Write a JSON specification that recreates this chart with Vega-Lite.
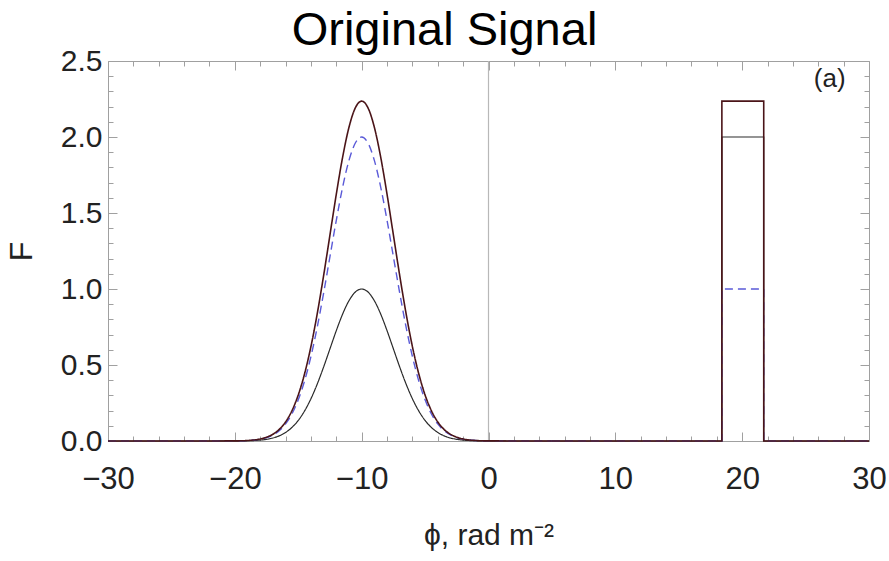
{
  "$schema": "https://vega.github.io/schema/vega-lite/v6.json",
  "width": 761,
  "height": 380,
  "autosize": "none",
  "padding": {"left": 108, "top": 61, "right": 20, "bottom": 120},
  "background": "white",
  "title": {
    "text": "Original Signal",
    "font": "Liberation Sans",
    "fontSize": 47,
    "fontWeight": "normal",
    "color": "#000000",
    "anchor": "middle",
    "dx": -44,
    "dy": 21,
    "offset": 12
  },
  "config": {
    "view": {"stroke": "#a0a0a0", "strokeWidth": 1},
    "axis": {
      "domain": false,
      "grid": false,
      "tickColor": "#a0a0a0",
      "labelFont": "Liberation Sans",
      "labelColor": "#222222",
      "titleFont": "Liberation Sans",
      "titleFontWeight": "normal",
      "titleColor": "#222222",
      "labelOverlap": false,
      "labelFlush": false
    }
  },
  "datasets": {
    "gauss": [
      {"x": -30, "re": 0, "im": 0, "amp": 0},
      {"x": -25, "re": 0, "im": 0, "amp": 0},
      {"x": -20, "re": 0.0003, "im": 0.0007, "amp": 0.0007},
      {"x": -19, "re": 0.0015, "im": 0.0031, "amp": 0.0034},
      {"x": -18.5, "re": 0.0031, "im": 0.0062, "amp": 0.0069},
      {"x": -18, "re": 0.006, "im": 0.012, "amp": 0.0134},
      {"x": -17.5, "re": 0.0111, "im": 0.0222, "amp": 0.0248},
      {"x": -17, "re": 0.0198, "im": 0.0396, "amp": 0.0443},
      {"x": -16.5, "re": 0.034, "im": 0.068, "amp": 0.076},
      {"x": -16, "re": 0.0561, "im": 0.1122, "amp": 0.1254},
      {"x": -15.5, "re": 0.0889, "im": 0.1778, "amp": 0.1988},
      {"x": -15, "re": 0.1353, "im": 0.2707, "amp": 0.3026},
      {"x": -14.5, "re": 0.1979, "im": 0.3958, "amp": 0.4425},
      {"x": -14, "re": 0.278, "im": 0.556, "amp": 0.6216},
      {"x": -13.5, "re": 0.3753, "im": 0.7506, "amp": 0.8392},
      {"x": -13, "re": 0.4868, "im": 0.9736, "amp": 1.0885},
      {"x": -12.5, "re": 0.6065, "im": 1.2131, "amp": 1.3562},
      {"x": -12, "re": 0.7261, "im": 1.4522, "amp": 1.6236},
      {"x": -11.5, "re": 0.8353, "im": 1.6706, "amp": 1.8678},
      {"x": -11, "re": 0.9231, "im": 1.8462, "amp": 2.0641},
      {"x": -10.5, "re": 0.9802, "im": 1.9604, "amp": 2.1918},
      {"x": -10, "re": 1, "im": 2, "amp": 2.2361},
      {"x": -9.5, "re": 0.9802, "im": 1.9604, "amp": 2.1918},
      {"x": -9, "re": 0.9231, "im": 1.8462, "amp": 2.0641},
      {"x": -8.5, "re": 0.8353, "im": 1.6706, "amp": 1.8678},
      {"x": -8, "re": 0.7261, "im": 1.4522, "amp": 1.6236},
      {"x": -7.5, "re": 0.6065, "im": 1.2131, "amp": 1.3562},
      {"x": -7, "re": 0.4868, "im": 0.9736, "amp": 1.0885},
      {"x": -6.5, "re": 0.3753, "im": 0.7506, "amp": 0.8392},
      {"x": -6, "re": 0.278, "im": 0.556, "amp": 0.6216},
      {"x": -5.5, "re": 0.1979, "im": 0.3958, "amp": 0.4425},
      {"x": -5, "re": 0.1353, "im": 0.2707, "amp": 0.3026},
      {"x": -4.5, "re": 0.0889, "im": 0.1778, "amp": 0.1988},
      {"x": -4, "re": 0.0561, "im": 0.1122, "amp": 0.1254},
      {"x": -3.5, "re": 0.034, "im": 0.068, "amp": 0.076},
      {"x": -3, "re": 0.0198, "im": 0.0396, "amp": 0.0443},
      {"x": -2.5, "re": 0.0111, "im": 0.0222, "amp": 0.0248},
      {"x": -2, "re": 0.006, "im": 0.012, "amp": 0.0134},
      {"x": -1.5, "re": 0.0031, "im": 0.0062, "amp": 0.0069},
      {"x": -1, "re": 0.0015, "im": 0.0031, "amp": 0.0034},
      {"x": 0, "re": 0.0003, "im": 0.0007, "amp": 0.0007},
      {"x": 5, "re": 0, "im": 0, "amp": 0}
    ],
    "box": [
      {"o": 0, "x": 5, "re": 0, "im": 0, "amp": 0},
      {"o": 1, "x": 18.4, "re": 0, "im": 0, "amp": 0},
      {"o": 2, "x": 18.4, "re": 2, "im": 1, "amp": 2.2361},
      {"o": 3, "x": 21.7, "re": 2, "im": 1, "amp": 2.2361},
      {"o": 4, "x": 21.7, "re": 0, "im": 0, "amp": 0},
      {"o": 5, "x": 30, "re": 0, "im": 0, "amp": 0}
    ],
    "zero": [{"x": 0, "y": 0, "y2": 2.5}],
    "note": [{"x": 26.9, "y": 2.38, "label": "(a)"}]
  },
  "layer": [
    {
      "encoding": {
        "x": {
          "field": "x",
          "type": "quantitative",
          "scale": {"domain": [-30, 30], "nice": false, "zero": false},
          "axis": {
            "orient": "bottom",
            "values": [-30, -28, -26, -24, -22, -20, -18, -16, -14, -12, -10, -8, -6, -4, -2, 0, 2, 4, 6, 8, 10, 12, 14, 16, 18, 20, 22, 24, 26, 28, 30],
            "labelExpr": "datum.value % 10 === 0 ? datum.label : ''",
            "tickSize": {"condition": {"test": "datum.value % 10 === 0", "value": -9}, "value": -5},
            "labelPadding": 32,
            "labelFontSize": 31,
            "title": "ϕ, rad m⁻²",
            "titleFontSize": 30,
            "titlePadding": 22
          }
        },
        "y": {
          "field": "y",
          "type": "quantitative",
          "scale": {"domain": [0, 2.5], "nice": false},
          "axis": {
            "orient": "left",
            "values": [0, 0.1, 0.2, 0.3, 0.4, 0.5, 0.6, 0.7, 0.8, 0.9, 1, 1.1, 1.2, 1.3, 1.4, 1.5, 1.6, 1.7, 1.8, 1.9, 2, 2.1, 2.2, 2.3, 2.4, 2.5],
            "labelExpr": "round(datum.value * 10) % 5 === 0 ? format(datum.value, '.1f') : ''",
            "tickSize": {"condition": {"test": "round(datum.value * 10) % 5 === 0", "value": -9}, "value": -5},
            "labelPadding": 15,
            "labelFontSize": 30,
            "title": "F",
            "titleFontSize": 32,
            "titlePadding": 22
          }
        }
      },
      "layer": [
        {
          "data": {"name": "zero"},
          "mark": {"type": "rule", "color": "#b8b8b8", "strokeWidth": 1.2},
          "encoding": {"y2": {"field": "y2"}}
        },
        {
          "data": {"name": "gauss"},
          "transform": [{"fold": ["re", "im", "amp"], "as": ["series", "y"]}],
          "mark": {"type": "line", "interpolate": "monotone"},
          "encoding": {
            "color": {"field": "series", "type": "nominal", "scale": {"domain": ["re", "im", "amp"], "range": ["#2a2a2a", "#5a5ad8", "#4a1418"]}, "legend": null},
            "strokeWidth": {"field": "series", "type": "nominal", "scale": {"domain": ["re", "im", "amp"], "range": [1.2, 1.6, 4]}, "legend": null},
            "strokeDash": {"field": "series", "type": "nominal", "scale": {"domain": ["re", "im", "amp"], "range": [[1, 0], [8, 5], [1, 0]]}, "legend": null}
          }
        },
        {
          "data": {"name": "box"},
          "transform": [{"fold": ["re", "im", "amp"], "as": ["series", "y"]}],
          "mark": {"type": "line", "interpolate": "linear"},
          "encoding": {
            "order": {"field": "o", "type": "quantitative"},
            "color": {"field": "series", "type": "nominal", "scale": {"domain": ["re", "im", "amp"], "range": ["#2a2a2a", "#5a5ad8", "#4a1418"]}, "legend": null},
            "strokeWidth": {"field": "series", "type": "nominal", "scale": {"domain": ["re", "im", "amp"], "range": [1.2, 1.6, 4]}, "legend": null},
            "strokeDash": {"field": "series", "type": "nominal", "scale": {"domain": ["re", "im", "amp"], "range": [[1, 0], [8, 5], [1, 0]]}, "legend": null}
          }
        },
        {
          "data": {"name": "note"},
          "mark": {"type": "text", "font": "Liberation Sans", "fontSize": 26, "color": "#222222", "align": "center", "baseline": "middle"},
          "encoding": {"text": {"field": "label"}}
        }
      ]
    },
    {
      "data": {"name": "zero"},
      "mark": {"type": "point", "opacity": 0},
      "encoding": {
        "x": {
          "field": "x",
          "type": "quantitative",
          "scale": {"domain": [-30, 30], "nice": false, "zero": false},
          "axis": {
            "orient": "top",
            "values": [-30, -28, -26, -24, -22, -20, -18, -16, -14, -12, -10, -8, -6, -4, -2, 0, 2, 4, 6, 8, 10, 12, 14, 16, 18, 20, 22, 24, 26, 28, 30],
            "labels": false,
            "title": null,
            "tickSize": {"condition": {"test": "datum.value % 10 === 0", "value": -9}, "value": -5}
          }
        },
        "y": {
          "field": "y",
          "type": "quantitative",
          "scale": {"domain": [0, 2.5], "nice": false},
          "axis": {
            "orient": "right",
            "values": [0, 0.1, 0.2, 0.3, 0.4, 0.5, 0.6, 0.7, 0.8, 0.9, 1, 1.1, 1.2, 1.3, 1.4, 1.5, 1.6, 1.7, 1.8, 1.9, 2, 2.1, 2.2, 2.3, 2.4, 2.5],
            "labels": false,
            "title": null,
            "tickSize": {"condition": {"test": "round(datum.value * 10) % 5 === 0", "value": -9}, "value": -5}
          }
        }
      }
    }
  ],
  "resolve": {"axis": {"x": "independent", "y": "independent"}}
}
